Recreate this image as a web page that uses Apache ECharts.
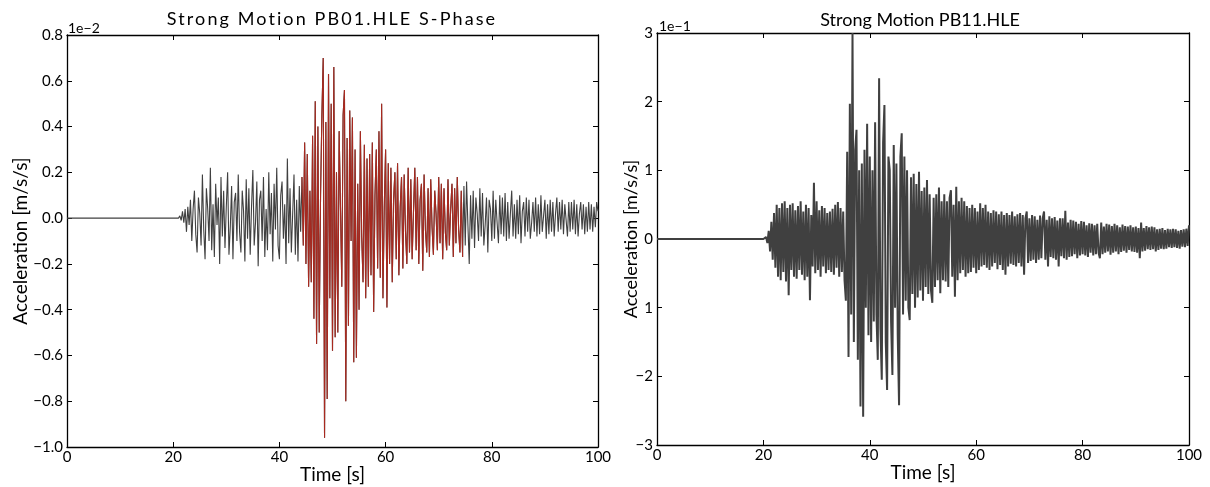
<!DOCTYPE html>
<html>
<head>
<meta charset="utf-8">
<script src="https://cdn.jsdelivr.net/npm/echarts@6/dist/echarts.min.js"></script>
<style>
  html, body { margin: 0; padding: 0; background: #fff; }
  #wrap { position: relative; width: 1210px; height: 487px; }
  #chart { width: 1210px; height: 487px; }
  #leftTitle { position: absolute; left: 32px; width: 600px; top: 8px; text-align: center;
               font: 18px Lato, sans-serif; letter-spacing: 2.1px; line-height: 20px; color: #000; }
</style>
</head>
<body>
<div id="wrap">
  <div id="chart"></div>
  <div id="leftTitle"></div>
</div>
<script>
// ---------------- DATA ----------------
const leftTitle = 'Strong Motion PB01.HLE S-Phase';
const rightTitle = 'Strong Motion PB11.HLE';
const xAxisName = 'Time [s]';
const yAxisName = 'Acceleration [m/s/s]';
const leftOffsetText = '1e\u22122';
const rightOffsetText = '1e\u22121';

const xTickLabels = ['0', '20', '40', '60', '80', '100'];
const leftYTickLabels = ['\u22121.0', '\u22120.8', '\u22120.6', '\u22120.4', '\u22120.2', '0.0', '0.2', '0.4', '0.6', '0.8'];
const rightYTickLabels = ['\u22123', '\u22122', '1', '0', '1', '2', '3'];

// sampling of the traces (seconds)
const LEFT_START = 21.0;
const RIGHT_START = 20.0;
const SAMPLE_STEP = 0.25;
// S-phase window highlighted in the left trace (seconds)
const RED_START = 44.25;
const RED_END = 74.5;

// PB01.HLE acceleration, units of 1e-2 m/s/s, from 21 s every 0.25 s
const leftValues = [
  0.00, 0.01, -0.01, 0.03, -0.02, 0.04, -0.06, 0.05,      // 21
  -0.03, 0.08, -0.10, 0.04, 0.12, -0.07, -0.15, 0.09,     // 23
  0.02, -0.12, 0.19, -0.05, -0.18, 0.13, 0.04, -0.10,     // 25
  0.22, -0.14, 0.06, -0.17, 0.15, -0.03, 0.09, -0.20,     // 27
  0.18, -0.08, 0.12, -0.13, 0.05, 0.20, -0.16, -0.04,     // 29
  0.14, -0.18, 0.07, 0.11, -0.10, 0.19, -0.06, -0.15,     // 31
  0.12, 0.03, -0.19, 0.17, -0.09, 0.13, -0.16, 0.05,      // 33
  0.21, -0.12, -0.02, 0.16, -0.21, 0.08, 0.12, -0.10,     // 35
  0.18, -0.17, 0.04, -0.14, 0.20, -0.07, 0.11, -0.19,     // 37
  0.15, -0.05, 0.22, -0.12, -0.18, 0.10, 0.16, -0.09,     // 39
  0.06, -0.20, 0.26, -0.11, 0.13, -0.15, 0.02, 0.19,      // 41
  -0.16, 0.08, -0.19, 0.14, -0.06, 0.18, -0.12, 0.33,     // 43
  -0.20, 0.28, -0.30, 0.12, -0.28, 0.36, -0.44, 0.51,     // 45
  -0.55, 0.40, -0.50, 0.10, 0.45, 0.70, -0.96, 0.42,      // 47
  -0.79, 0.63, -0.35, 0.50, -0.58, 0.66, -0.52, 0.20,     // 49
  -0.50, 0.38, 0.05, -0.30, 0.45, 0.56, -0.80, 0.35,      // 51
  -0.47, 0.47, -0.10, 0.44, -0.63, 0.30, -0.61, 0.15,     // 53
  -0.40, 0.38, -0.08, -0.28, 0.32, -0.35, 0.26, -0.30,    // 55
  0.28, -0.25, 0.33, -0.41, 0.10, 0.30, -0.22, 0.38,      // 57
  -0.26, 0.50, -0.35, 0.05, 0.30, -0.39, 0.24, -0.20,     // 59
  0.22, -0.28, 0.08, 0.20, -0.18, 0.24, -0.25, 0.05,      // 61
  0.18, -0.22, 0.19, -0.06, -0.20, 0.22, -0.15, 0.17,     // 63
  -0.18, 0.03, 0.22, -0.14, 0.18, -0.20, 0.08, 0.15,      // 65
  -0.23, 0.19, -0.05, -0.15, 0.13, -0.17, 0.17, -0.04,    // 67
  -0.16, 0.12, 0.02, -0.14, 0.18, -0.11, 0.15, -0.18,     // 69
  0.13, -0.06, -0.14, 0.17, -0.12, 0.04, 0.15, -0.17,     // 71
  0.13, -0.11, 0.18, -0.05, -0.15, 0.12, -0.17, 0.14,     // 73
  -0.12, 0.16, -0.03, -0.20, 0.10, -0.09, 0.12, -0.13,    // 75
  0.09, 0.02, -0.10, 0.13, -0.08, 0.11, -0.12, -0.03,     // 77
  0.09, -0.15, 0.08, 0.04, -0.10, 0.12, -0.09, 0.08,      // 79
  -0.02, -0.11, 0.10, -0.07, 0.09, -0.08, 0.11, -0.10,    // 81
  0.07, -0.09, 0.02, 0.12, -0.08, 0.06, -0.09, 0.08,      // 83
  -0.07, 0.10, -0.11, 0.03, 0.07, -0.08, 0.09, -0.06,     // 85
  0.08, -0.09, -0.02, 0.07, -0.06, 0.09, -0.08, 0.06,     // 87
  -0.07, 0.10, -0.06, 0.01, 0.08, -0.09, 0.06, -0.07,     // 89
  0.08, -0.06, 0.07, -0.08, 0.02, 0.09, -0.06, 0.07,      // 91
  -0.05, 0.08, -0.07, 0.06, -0.01, -0.08, 0.07, -0.06,    // 93
  0.07, -0.05, 0.08, -0.07, 0.06, -0.08, 0.02, 0.07,      // 95
  -0.05, 0.06, -0.07, 0.05, -0.06, 0.07, -0.05, 0.06,     // 97
  -0.06, 0.05, -0.04, 0.07, 0.03                          // 99 .. 100
];

// PB11.HLE acceleration, units of 1e-1 m/s/s, from 20 s every 0.25 s
const rightValues = [
  0.00, 0.00, 0.03, -0.06, 0.12, -0.18, 0.25, -0.30,      // 20
  0.38, -0.42, 0.50, -0.55, 0.45, -0.60, 0.52, -0.48,     // 22
  0.55, -0.62, 0.45, -0.82, 0.50, -0.45, 0.52, -0.55,     // 24
  0.42, -0.58, 0.48, -0.45, 0.55, -0.52, 0.40, -0.60,     // 26
  0.50, -0.55, 0.45, -0.89, 0.35, -0.40, 0.82, -0.50,     // 28
  0.55, -0.45, 0.42, -0.55, 0.48, -0.40, 0.45, -0.50,     // 30
  0.38, -0.45, 0.40, -0.48, 0.44, -0.52, 0.50, -0.42,     // 32
  0.54, -0.55, 0.45, -0.48, 0.40, -0.60, -0.90, 1.27,     // 34
  -1.72, 1.97, -1.10, 3.00, -1.50, 1.30, 1.59, -1.76,     // 36
  1.00, -2.44, 1.10, -2.59, 1.30, -1.00, 1.68, -1.40,     // 38
  1.20, -1.50, 1.00, -1.20, 1.70, -1.10, -1.76, 2.34,     // 40
  -1.30, -2.05, 1.40, 1.95, -1.50, -2.20, 1.20, 1.00,     // 42
  -1.20, -1.98, 1.37, -1.00, 1.10, -1.40, -2.42, 1.20,    // 44
  1.54, -1.10, 1.20, -0.90, 1.00, -1.00, -1.18, 0.90,     // 46
  -0.80, 0.95, -1.00, 0.80, -0.85, 0.98, -0.75, 0.70,     // 48
  -0.90, 0.75, -0.70, 0.86, -0.80, 0.65, -0.75, -0.93,    // 50
  0.60, -0.70, 0.65, -0.60, 0.75, -0.79, 0.55, -0.60,     // 52
  0.65, -0.62, 0.55, -0.70, 0.60, 0.71, -0.55, 0.50,      // 54
  -0.84, 0.76, -0.60, 0.55, -0.50, 0.60, -0.45, 0.55,     // 56
  -0.55, 0.48, -0.50, 0.45, -0.48, 0.50, -0.42, 0.45,     // 58
  -0.50, 0.40, -0.45, 0.52, -0.40, 0.45, -0.38, 0.50,     // 60
  -0.42, 0.40, -0.45, 0.38, -0.40, 0.42, -0.35, 0.40,     // 62
  -0.44, 0.36, -0.38, 0.40, -0.45, 0.35, -0.52, 0.38,     // 64
  -0.40, 0.35, -0.36, 0.40, -0.38, 0.33, -0.40, 0.36,     // 66
  -0.35, 0.38, -0.40, 0.35, -0.52, 0.30, 0.40, -0.35,     // 68
  0.30, -0.32, 0.35, -0.30, 0.33, -0.35, 0.28, -0.30,     // 70
  0.34, -0.28, 0.30, 0.40, -0.30, 0.28, -0.40, 0.33,      // 72
  -0.26, 0.30, -0.28, 0.32, -0.30, 0.27, -0.40, 0.30,     // 74
  -0.25, 0.30, -0.28, 0.41, -0.30, 0.24, -0.26, 0.28,     // 76
  -0.25, 0.27, -0.22, 0.25, -0.28, 0.22, -0.24, 0.26,     // 78
  -0.22, 0.25, -0.24, 0.20, -0.26, 0.23, -0.20, 0.22,     // 80
  -0.24, 0.20, -0.22, 0.22, -0.20, -0.28, 0.24, -0.22,    // 82
  0.18, -0.20, 0.22, -0.18, 0.21, -0.23, 0.19, -0.20,     // 84
  0.22, -0.18, 0.20, -0.22, 0.17, -0.19, 0.21, -0.17,     // 86
  0.19, -0.20, 0.18, -0.16, 0.20, -0.18, 0.17, -0.19,     // 88
  0.18, -0.20, 0.16, -0.28, 0.24, -0.18, 0.16, -0.17,     // 90
  0.19, -0.15, 0.17, -0.16, 0.18, -0.15, 0.17, -0.18,     // 92
  0.14, -0.16, 0.15, -0.14, 0.16, -0.15, 0.13, -0.14,     // 94
  0.15, -0.12, 0.14, -0.13, 0.15, -0.12, 0.14, -0.13,     // 96
  0.12, -0.14, 0.13, -0.11, 0.14, -0.12, 0.15, -0.10,     // 98
  0.20                                                    // 100
];

// ---------------- BUILD ----------------
document.getElementById('leftTitle').textContent = leftTitle;

function trace(values, start) {
  const pts = [[0, 0]];
  values.forEach((v, i) => pts.push([start + i * SAMPLE_STEP, v]));
  return pts;
}
const leftTrace = trace(leftValues, LEFT_START);
const rightTrace = trace(rightValues, RIGHT_START);
const leftRed = leftTrace.filter(p => p[0] >= RED_START - 1e-9 && p[0] <= RED_END + 1e-9);

const FONT = 'Lato';
const BLACK = '#000';
const GRAY = '#404040';
const RED = '#a8291f';

function fromArr(arr, min, interval) {
  return v => {
    const i = Math.round((v - min) / interval);
    return arr[i] !== undefined ? arr[i] : '';
  };
}

function xAx(grid, pos, showLabel) {
  return {
    gridIndex: grid, type: 'value', min: 0, max: 100, interval: 20, position: pos,
    axisLine: { onZero: false, lineStyle: { color: BLACK, width: 1.3 } },
    axisTick: { inside: true, length: 5, lineStyle: { color: BLACK, width: 1 } },
    axisLabel: { show: showLabel, fontFamily: FONT, fontSize: 15, color: BLACK, margin: 3,
                 formatter: fromArr(xTickLabels, 0, 20) },
    splitLine: { show: false },
    name: showLabel ? xAxisName : '', nameLocation: 'middle', nameGap: 18, nameMoveOverlap: false,
    nameTextStyle: { fontFamily: FONT, fontSize: 19, color: BLACK }
  };
}
function yAx(grid, pos, showLabel, min, max, interval, labels, nameGap, nameSize) {
  return {
    gridIndex: grid, type: 'value', min: min, max: max, interval: interval, position: pos,
    axisLine: { onZero: false, lineStyle: { color: BLACK, width: 1.3 } },
    axisTick: { inside: true, length: 5, lineStyle: { color: BLACK, width: 1 } },
    axisLabel: { show: showLabel, fontFamily: FONT, fontSize: 15, color: BLACK, margin: 4,
                 formatter: fromArr(labels, min, interval) },
    splitLine: { show: false },
    name: showLabel ? yAxisName : '', nameLocation: 'middle', nameGap: nameGap, nameMoveOverlap: false,
    nameTextStyle: { fontFamily: FONT, fontSize: nameSize, color: BLACK }
  };
}

const chart = echarts.init(document.getElementById('chart'), null, { renderer: 'canvas' });
chart.setOption({
  animation: false,
  backgroundColor: '#fff',
  grid: [
    { left: 67, top: 35, width: 531, height: 412, containLabel: false, outerBoundsMode: 'none' },
    { left: 657, top: 33, width: 532, height: 412, containLabel: false, outerBoundsMode: 'none' }
  ],
  xAxis: [
    xAx(0, 'bottom', true), xAx(0, 'top', false),
    xAx(1, 'bottom', true), xAx(1, 'top', false)
  ],
  yAxis: [
    yAx(0, 'left', true, -1.0, 0.8, 0.2, leftYTickLabels, 37, 19),
    yAx(0, 'right', false, -1.0, 0.8, 0.2, leftYTickLabels, 0, 19),
    yAx(1, 'left', true, -3, 3, 1, rightYTickLabels, 17, 18),
    yAx(1, 'right', false, -3, 3, 1, rightYTickLabels, 0, 18)
  ],
  graphic: [
    { type: 'text', x: 920, y: 20, style: { text: rightTitle, font: '18px ' + FONT, fill: BLACK,
      textAlign: 'center', textVerticalAlign: 'middle', verticalAlign: 'middle' } },
    { type: 'text', x: 68, y: 28, style: { text: leftOffsetText, font: '14px ' + FONT, fill: BLACK,
      textAlign: 'left', textVerticalAlign: 'middle', verticalAlign: 'middle' } },
    { type: 'text', x: 659, y: 26, style: { text: rightOffsetText, font: '14px ' + FONT, fill: BLACK,
      textAlign: 'left', textVerticalAlign: 'middle', verticalAlign: 'middle' } }
  ],
  series: [
    { type: 'line', xAxisIndex: 0, yAxisIndex: 0, data: leftTrace, showSymbol: false, symbol: 'none',
      sampling: null, lineStyle: { color: GRAY, width: 1.1 }, z: 2 },
    { type: 'line', xAxisIndex: 0, yAxisIndex: 0, data: leftRed, showSymbol: false, symbol: 'none',
      lineStyle: { color: RED, width: 1.1 }, z: 3 },
    { type: 'line', xAxisIndex: 2, yAxisIndex: 2, data: rightTrace, showSymbol: false, symbol: 'none',
      lineStyle: { color: GRAY, width: 2 }, z: 2 }
  ]
});
</script>
</body>
</html>
